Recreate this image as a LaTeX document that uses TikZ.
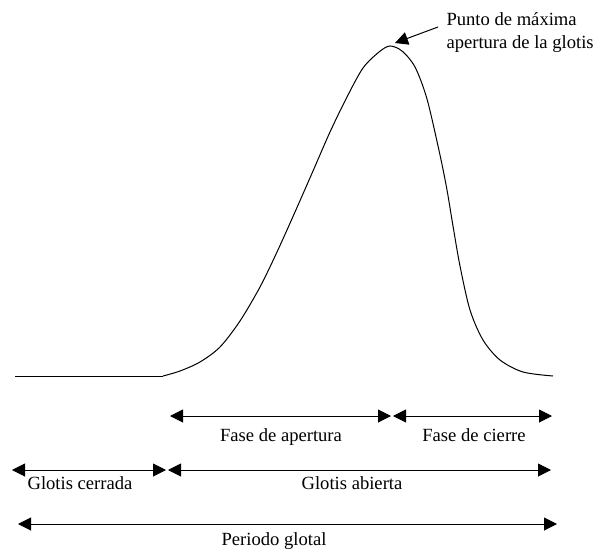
\documentclass[tikz,border=0pt]{standalone}
\usepackage{fontspec}
\setmainfont{Liberation Serif}
\usetikzlibrary{arrows.meta}
\tikzset{
  tip/.tip={Triangle[length=13pt,width=13pt]},
  dimarrow/.style={tip-tip,line width=1pt},
  etiq/.style={anchor=base,inner sep=0pt}
}

\begin{document}
\begin{tikzpicture}[x=1pt,y=-1pt,font=\fontsize{18.6}{23.5}\selectfont,line width=1pt]
\useasboundingbox (0,0) rectangle (595,549);
% pulso glotal
\draw (15,376) -- (163,376);
\draw plot[smooth,tension=0.5] coordinates {(163,376) (180,371) (200,362) (220,347) (240,321) (260,287) (277,252) (295,212) (313,171) (330,132) (347,97) (363,68) (379,52) (390,46) (402,51) (415,67) (427,99) (440,155) (447,190) (453,226) (460,266) (470,310) (483,340) (500,360) (523,372) (553,376)};
% extremos de las flechas
\foreach \n/\x/\y in {fa0/170/416,fa1/391/416,fc0/393/416,fc1/552/416,gc0/12/470,gc1/166/470,ga0/168/470,ga1/551/470,pg0/18/524,pg1/557/524} {\coordinate (\n) at (\x,\y);}
\draw[dimarrow] (fa0) -- (fa1);
\draw[dimarrow] (fc0) -- (fc1);
\draw[dimarrow] (gc0) -- (gc1);
\draw[dimarrow] (ga0) -- (ga1);
\draw[dimarrow] (pg0) -- (pg1);
\node[etiq] (apertura) at (281,441) {Fase de apertura};
\node[etiq] (cierre) at (474,441) {Fase de cierre};
\node[etiq] (cerrada) at (80,489) {Glotis cerrada};
\node[etiq] (abierta) at (352,489) {Glotis abierta};
\node[etiq] (periodo) at (274,545) {Periodo glotal};
% maximo
\node[anchor=north west,align=left,inner sep=0pt] (maxlbl) at (446,12) {Punto de máxima\\apertura de la glotis};
\coordinate (cola) at (438,27);
\coordinate (pico) at (395,43);
\draw[-tip] (cola) -- (pico);
\end{tikzpicture}
\end{document}
